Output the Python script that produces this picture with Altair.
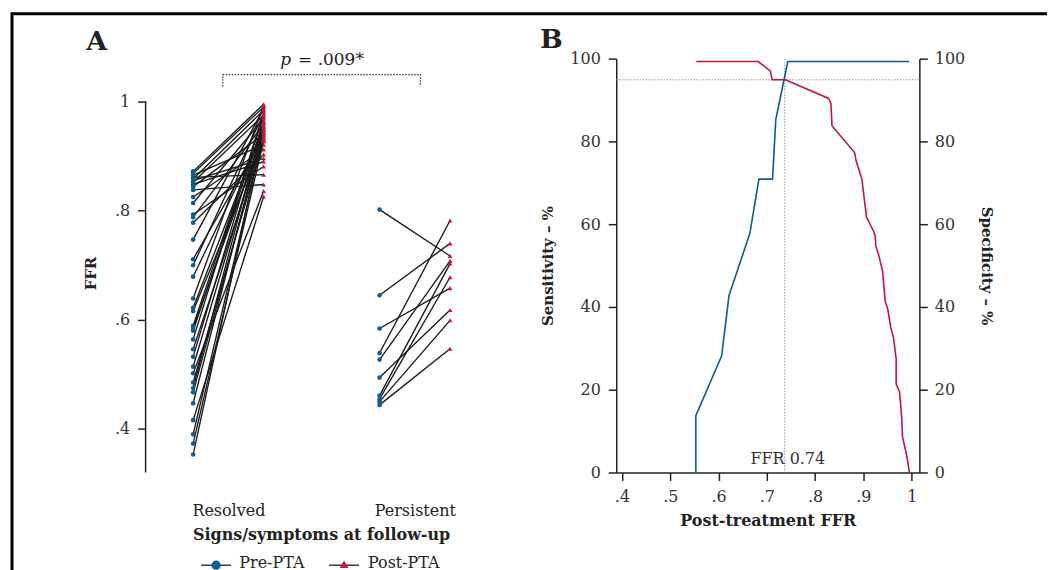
import altair as alt
import pandas as pd

FONT = "DejaVu Serif"
BLUE = "#0d5e8d"
RED = "#c3163b"
INK = "#222222"
GREY = "#9a9a9a"

# ---------------- Panel A data (FFR, pre -> post per patient) ----------------
groups = ["Resolved", "Persistent"]
phases = ["Pre-PTA", "Post-PTA"]
resolved_pre = [0.872, 0.868, 0.865, 0.861, 0.858, 0.855, 0.852, 0.848, 0.844, 0.838,
                0.825, 0.814, 0.793, 0.788, 0.778, 0.747, 0.711, 0.700, 0.679, 0.639,
                0.622, 0.616, 0.589, 0.585, 0.580, 0.564, 0.546, 0.532, 0.514, 0.502,
                0.485, 0.475, 0.467, 0.447, 0.416, 0.390, 0.373, 0.353]
resolved_post = [0.995, 0.990, 0.921, 0.866, 0.984, 0.896, 0.975, 0.890, 0.940, 0.848,
                 0.912, 0.969, 0.881, 0.958, 0.903, 0.987, 0.936, 0.978, 0.947, 0.993,
                 0.955, 0.930, 0.972, 0.944, 0.962, 0.981, 0.933, 0.965, 0.950, 0.836,
                 0.927, 0.961, 0.942, 0.953, 0.826, 0.938, 0.928, 0.948]
persistent_pre = [0.802, 0.645, 0.584, 0.539, 0.527, 0.494, 0.461, 0.455, 0.450, 0.444]
persistent_post = [0.717, 0.740, 0.658, 0.782, 0.708, 0.618, 0.703, 0.678, 0.599, 0.547]
p_text = ["p", "= .009*"]

# ---------------- Panel B data (ROC-like curves) ----------------
sens_ffr = [0.553, 0.553, 0.6065, 0.6216, 0.6649, 0.6836, 0.7118, 0.7186, 0.7434, 0.9947]
sens_pct = [0, 13.7, 28.2, 42.7, 57.8, 70.9, 70.9, 85.3, 99.3, 99.3]
spec_ffr = [0.554, 0.682, 0.7077, 0.711, 0.7386, 0.828, 0.8328, 0.8349, 0.8817, 0.8852,
            0.8968, 0.9065, 0.921, 0.9245, 0.9257, 0.9313, 0.9396, 0.9451, 0.9505, 0.9567,
            0.9623, 0.9678, 0.9678, 0.9747, 0.9794, 0.9808, 0.9897, 0.9953]
spec_pct = [99.3, 99.3, 97.0, 94.9, 94.9, 90.4, 89.2, 83.8, 77.3, 75.2,
            70.9, 61.7, 58.3, 57.1, 54.7, 52.7, 48.7, 41.4, 39.4, 35.0,
            32.6, 27.4, 21.4, 19.5, 13.3, 8.7, 4.1, 0.0]
cutoff_ffr = 0.737
cutoff_spec = 94.9
cutoff_label = "FFR 0.74"

# ---------------- layout constants ----------------
WA, HA = 400, 415
WB, HB = 304, 415
A_YMIN, A_YMAX = 0.3201, 1.0786

group_pos = {"Resolved": 1.0, "Persistent": 2.0}
phase_shift = {"Pre-PTA": -0.189, "Post-PTA": 0.189}

rows = []
pid = 0
for g, pre, post in [("Resolved", resolved_pre, resolved_post),
                     ("Persistent", persistent_pre, persistent_post)]:
    for a, b in zip(pre, post):
        rows.append(dict(id=pid, group=g, phase="Pre-PTA", ffr=a,
                         pos=group_pos[g] + phase_shift["Pre-PTA"]))
        rows.append(dict(id=pid, group=g, phase="Post-PTA", ffr=b,
                         pos=group_pos[g] + phase_shift["Post-PTA"]))
        pid += 1
dfA = pd.DataFrame(rows)

tick_label_expr = ("datum.value == 1 ? '1' : "
                   "replace(format(datum.value, '.1f'), '0.', '.')")

xA = alt.Scale(domain=[0.5561, 2.6952], nice=False, zero=False)
yA = alt.Scale(domain=[A_YMIN, A_YMAX], nice=False, zero=False)

xA_axis = alt.Axis(values=[1, 2],
                   labelExpr="datum.value == 1 ? 'Resolved' : 'Persistent'",
                   title="Signs/symptoms at follow-up", domain=False, ticks=False,
                   tickSize=0, labelPadding=30, titlePadding=8, labelColor=INK,
                   titleFontSize=16, titleX=176)
yA_axis = alt.Axis(values=[0.4, 0.6, 0.8, 1.0], labelExpr=tick_label_expr,
                   title="FFR", domain=False, tickSize=8, labelPadding=8,
                   titlePadding=16, titleY=215)

lines = alt.Chart(dfA).mark_line(color="#1a1a1a", strokeWidth=1.35).encode(
    x=alt.X("pos:Q", scale=xA, axis=xA_axis),
    y=alt.Y("ffr:Q", scale=yA, axis=yA_axis),
    detail="id:N",
)
points = alt.Chart(dfA).mark_point(filled=True, opacity=1, size=22).encode(
    x=alt.X("pos:Q", scale=xA, axis=xA_axis),
    y=alt.Y("ffr:Q", scale=yA, axis=yA_axis),
    color=alt.Color("phase:N", scale=alt.Scale(domain=phases, range=[BLUE, RED]),
                    legend=None),
    shape=alt.Shape("phase:N", scale=alt.Scale(domain=phases,
                                                range=["circle", "triangle-up"]),
                    legend=None),
)

# y-axis line of panel A (from 1 down to the bottom)
axis_line_A = alt.Chart(pd.DataFrame({"ffr": [1.0], "ffr2": [A_YMIN]})).mark_rule(
    color=INK, strokeWidth=1.5).encode(
    x=alt.value(0),
    y=alt.Y("ffr:Q", scale=yA, axis=yA_axis),
    y2="ffr2:Q",
)

# significance bracket
bracket = alt.Chart(pd.DataFrame({
    "pos": [0.97, 0.97, 2.03, 2.03],
    "ffr": [1.0274, 1.0494, 1.0494, 1.0274],
    "k": [0, 1, 2, 3]})).mark_line(
    color="#333333", strokeWidth=1.2, strokeDash=[1.5, 1.5]).encode(
    x=alt.X("pos:Q", scale=xA, axis=xA_axis),
    y=alt.Y("ffr:Q", scale=yA, axis=yA_axis),
    order="k:Q",
)
p_italic = alt.Chart(pd.DataFrame({"pos": [1.337], "ffr": [1.0676],
                                   "t": [p_text[0]]})).mark_text(
    font=FONT, fontSize=17, fontStyle="italic", align="right",
    baseline="alphabetic", color=INK).encode(
    x=alt.X("pos:Q", scale=xA, axis=xA_axis),
    y=alt.Y("ffr:Q", scale=yA, axis=yA_axis), text="t:N")
p_rest = alt.Chart(pd.DataFrame({"pos": [1.374], "ffr": [1.0676],
                                 "t": [p_text[1]]})).mark_text(
    font=FONT, fontSize=17, align="left", baseline="alphabetic",
    color=INK).encode(
    x=alt.X("pos:Q", scale=xA, axis=xA_axis),
    y=alt.Y("ffr:Q", scale=yA, axis=yA_axis), text="t:N")

one = pd.DataFrame({"k": [0]})
letter_A = alt.Chart(one).mark_text(font=FONT, fontSize=27, fontWeight="bold",
                                    color=INK, baseline="middle").encode(
    x=alt.value(-49), y=alt.value(-17), text=alt.value("A"))

# frame (top and left border of the figure)
frame_top = alt.Chart(one).mark_rule(color="black", strokeWidth=3).encode(
    x=alt.value(-134), x2=alt.value(904), y=alt.value(-45))
frame_left = alt.Chart(one).mark_rule(color="black", strokeWidth=3).encode(
    x=alt.value(-134), y=alt.value(-46.5), y2=alt.value(515))

# legend for panel A
leg_line1 = alt.Chart(one).mark_rule(color="#1a1a1a", strokeWidth=1.3).encode(
    x=alt.value(55.7), x2=alt.value(85.7), y=alt.value(508))
leg_pt1 = alt.Chart(one).mark_point(filled=True, opacity=1, size=85, shape="circle",
                                    color=BLUE).encode(
    x=alt.value(70.7), y=alt.value(508))
leg_tx1 = alt.Chart(one).mark_text(font=FONT, fontSize=16, align="left",
                                   baseline="middle", color=INK).encode(
    x=alt.value(94), y=alt.value(506), text=alt.value(phases[0]))
leg_line2 = alt.Chart(one).mark_rule(color="#1a1a1a", strokeWidth=1.3).encode(
    x=alt.value(184), x2=alt.value(214), y=alt.value(508))
leg_pt2 = alt.Chart(one).mark_point(filled=True, opacity=1, size=75,
                                    shape="triangle-up", color=RED).encode(
    x=alt.value(199), y=alt.value(507))
leg_tx2 = alt.Chart(one).mark_text(font=FONT, fontSize=16, align="left",
                                   baseline="middle", color=INK).encode(
    x=alt.value(223), y=alt.value(506), text=alt.value(phases[1]))

panelA = alt.layer(axis_line_A, lines, points, bracket, p_italic, p_rest, letter_A,
                   frame_top, frame_left, leg_line1, leg_pt1, leg_tx1,
                   leg_line2, leg_pt2, leg_tx2).properties(width=WA, height=HA)

# ---------------- Panel B ----------------
xB = alt.Scale(domain=[0.3882, 1.0159], nice=False, zero=False)
yB = alt.Scale(domain=[0, 100], nice=False)
xB_axis = alt.Axis(values=[0.4, 0.5, 0.6, 0.7, 0.8, 0.9, 1.0],
                   labelExpr=tick_label_expr, title="Post-treatment FFR",
                   tickSize=8, labelPadding=8, titlePadding=8, titleFontSize=16)
yL_axis = alt.Axis(values=[0, 20, 40, 60, 80, 100], title="Sensitivity – %",
                   tickSize=8, labelPadding=8, titlePadding=14)
yR_axis = alt.Axis(values=[0, 20, 40, 60, 80, 100], title="Specificity – %",
                   orient="right", tickSize=8, labelPadding=7, titlePadding=14)

dfS = pd.DataFrame({"ffr": sens_ffr, "pct": sens_pct, "i": range(len(sens_ffr))})
dfP = pd.DataFrame({"ffr": spec_ffr, "pct": spec_pct, "i": range(len(spec_ffr))})

vrule = alt.Chart(pd.DataFrame({"ffr": [cutoff_ffr]})).mark_rule(
    color=GREY, strokeWidth=1, strokeDash=[1.5, 1.5]).encode(
    x=alt.X("ffr:Q", scale=xB, axis=xB_axis))
hrule = alt.Chart(pd.DataFrame({"pct": [cutoff_spec]})).mark_rule(
    color=GREY, strokeWidth=1, strokeDash=[1.5, 1.5]).encode(
    y=alt.Y("pct:Q", scale=yB, axis=yL_axis))
sens_line = alt.Chart(dfS).mark_line(color=BLUE, strokeWidth=1.6).encode(
    x=alt.X("ffr:Q", scale=xB, axis=xB_axis),
    y=alt.Y("pct:Q", scale=yB, axis=yL_axis),
    order="i:Q")
cut_text = alt.Chart(pd.DataFrame({"ffr": [0.7434], "pct": [2.0],
                                   "t": [cutoff_label]})).mark_text(
    font=FONT, fontSize=16, align="center", baseline="alphabetic",
    color="#333333").encode(
    x=alt.X("ffr:Q", scale=xB, axis=xB_axis),
    y=alt.Y("pct:Q", scale=yB, axis=yL_axis), text="t:N")
letter_B = alt.Chart(one).mark_text(font=FONT, fontSize=27, fontWeight="bold",
                                    color=INK, baseline="middle").encode(
    x=alt.value(-65), y=alt.value(-19), text=alt.value("B"))

left_layer = alt.layer(vrule, hrule, sens_line, cut_text, letter_B)
spec_line = alt.Chart(dfP).mark_line(color=RED, strokeWidth=1.6).encode(
    x=alt.X("ffr:Q", scale=xB, axis=xB_axis),
    y=alt.Y("pct:Q", scale=yB, axis=yR_axis),
    order="i:Q")

panelB = alt.layer(left_layer, spec_line).resolve_scale(y="independent").properties(
    width=WB, height=HB)

chart = alt.hconcat(panelA, panelB, spacing=72, bounds="flush").properties(
    padding={"left": 2, "top": 2, "right": 0, "bottom": 0}
).configure_view(stroke=None).configure_axis(
    labelFont=FONT, titleFont=FONT, labelFontSize=16, titleFontSize=15,
    labelColor="#333333", titleColor=INK, titleFontWeight="bold",
    domainColor=INK, tickColor=INK, domainWidth=1.5, tickWidth=1.5, grid=False
)

chart.save("out.html", embed_options={"renderer": "svg", "actions": False})
